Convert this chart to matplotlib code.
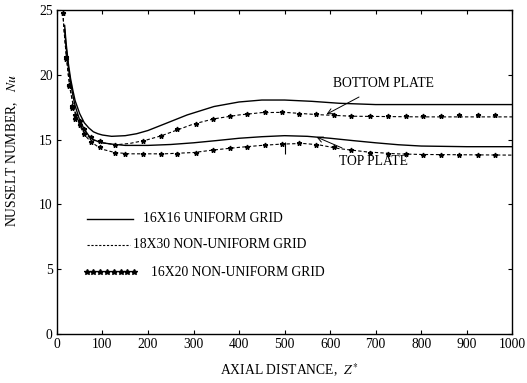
import matplotlib
matplotlib.use("Agg")
import matplotlib.pyplot as plt

plt.rcParams['font.family'] = ['Liberation Serif', 'DejaVu Serif']
plt.rcParams['mathtext.fontset'] = 'stix'

# 16X16 uniform grid (solid) - bottom plate and top plate
solid_bottom_x = [17, 20, 25, 30, 35, 40, 50, 60, 70, 80, 90, 100, 120, 150, 175, 200, 236, 286, 345, 400, 450, 500, 560, 620, 700, 850, 1000]
solid_bottom_y = [23.8, 22.5, 20.9, 19.7, 18.8, 18.0, 17.0, 16.3, 15.9, 15.6, 15.45, 15.35, 15.25, 15.3, 15.45, 15.7, 16.2, 16.9, 17.55, 17.9, 18.05, 18.05, 17.95, 17.8, 17.7, 17.7, 17.7]
solid_top_x = [17, 20, 25, 30, 35, 40, 50, 60, 70, 80, 90, 100, 120, 150, 200, 250, 300, 350, 400, 450, 500, 550, 600, 650, 700, 750, 800, 900, 1000]
solid_top_y = [23.5, 22.2, 20.6, 19.4, 18.4, 17.6, 16.5, 15.8, 15.3, 15.0, 14.85, 14.75, 14.65, 14.55, 14.55, 14.62, 14.75, 14.92, 15.1, 15.22, 15.3, 15.25, 15.1, 14.92, 14.75, 14.6, 14.5, 14.45, 14.45]

# 18X30 non-uniform grid (dashed)
dash_bottom_x = [13, 16, 20, 25, 30, 35, 40, 50, 60, 70, 80, 100, 130, 160, 195, 230, 265, 300, 345, 400, 450, 500, 574, 650, 800, 1000]
dash_bottom_y = [24.8, 23.3, 21.7, 20.0, 18.7, 17.8, 17.1, 16.2, 15.6, 15.2, 14.95, 14.75, 14.6, 14.7, 14.95, 15.3, 15.75, 16.2, 16.6, 16.9, 17.08, 17.1, 16.92, 16.8, 16.75, 16.75]
dash_top_x = [13, 16, 20, 25, 30, 35, 40, 50, 60, 70, 80, 90, 100, 127, 160, 236, 300, 345, 400, 450, 493, 540, 574, 620, 680, 745, 800, 1000]
dash_top_y = [24.8, 23.3, 21.7, 20.0, 18.7, 17.8, 17.1, 16.1, 15.4, 15.0, 14.7, 14.45, 14.25, 14.0, 13.9, 13.9, 14.0, 14.2, 14.4, 14.55, 14.65, 14.7, 14.6, 14.3, 14.05, 13.9, 13.85, 13.8]

# 16X20 non-uniform grid (markers)
mark_bottom_x = [13, 20, 26, 33, 40, 50, 60, 75, 95, 127, 188, 229, 264, 306, 343, 380, 418, 456, 494, 532, 570, 608, 646, 688, 727, 766, 803, 843, 884, 924, 963]
mark_bottom_y = [24.8, 21.4, 19.2, 17.6, 16.9, 16.4, 15.8, 15.2, 14.9, 14.6, 14.9, 15.3, 15.8, 16.2, 16.6, 16.8, 17.0, 17.1, 17.1, 17.0, 16.95, 16.9, 16.8, 16.8, 16.8, 16.85, 16.8, 16.85, 16.9, 16.9, 16.9]
mark_top_x = [20, 26, 33, 40, 50, 60, 75, 95, 127, 150, 188, 229, 264, 306, 343, 380, 418, 456, 494, 532, 570, 608, 646, 688, 727, 766, 803, 843, 884, 924, 963]
mark_top_y = [21.2, 19.1, 17.4, 16.6, 16.1, 15.4, 14.8, 14.4, 14.0, 13.9, 13.85, 13.9, 13.9, 14.0, 14.2, 14.35, 14.45, 14.55, 14.65, 14.7, 14.6, 14.4, 14.2, 14.0, 13.9, 13.85, 13.8, 13.8, 13.8, 13.8, 13.8]

xticks = [0, 100, 200, 300, 400, 500, 600, 700, 800, 900, 1000]
yticks = [0, 5, 10, 15, 20, 25]

fig = plt.figure(figsize=(5.27, 3.83), dpi=100)
ax = fig.add_axes([0.108, 0.128, 0.864, 0.846])

ax.plot(solid_bottom_x, solid_bottom_y, color='black', lw=1.0)
ax.plot(solid_top_x, solid_top_y, color='black', lw=1.0)
ax.plot(dash_bottom_x, dash_bottom_y, color='black', lw=0.8, linestyle=(0, (3, 2)))
ax.plot(dash_top_x, dash_top_y, color='black', lw=0.8, linestyle=(0, (3, 2)))
ax.plot(mark_bottom_x, mark_bottom_y, linestyle='none', marker='*', color='black', markersize=3.5)
ax.plot(mark_top_x, mark_top_y, linestyle='none', marker='*', color='black', markersize=3.5)
ax.vlines(500, 13.9, 14.8, color='black', lw=0.8)

fs = 9.8
# legend (drawn in data coordinates)
ax.plot([65, 166], [8.9, 8.9], color='black', lw=1.0)
ax.text(188, 8.9, '16X16 UNIFORM GRID', fontsize=fs, va='center', ha='left')
ax.plot([65, 160], [6.9, 6.9], color='black', lw=0.8, linestyle=(0, (2, 1.5)))
ax.text(166, 6.9, '18X30 NON-UNIFORM GRID', fontsize=fs, va='center', ha='left')
ax.plot([65, 80, 95, 110, 125, 140, 155, 170], [4.75] * 8, linestyle='none', marker='*', color='black', markersize=4)
ax.text(207, 4.75, '16X20 NON-UNIFORM GRID', fontsize=fs, va='center', ha='left')

# annotations
ax.annotate('BOTTOM PLATE', xy=(592, 16.95), xytext=(718, 19.3), fontsize=fs,
            ha='center', va='center',
            arrowprops=dict(arrowstyle='->', color='black', lw=0.7, shrinkA=6, shrinkB=0))
ax.annotate('TOP PLATE', xy=(570, 15.2), xytext=(696, 13.3), fontsize=fs,
            ha='center', va='center',
            arrowprops=dict(arrowstyle='->', color='black', lw=0.7, shrinkA=8, shrinkB=0))

ax.set_xlim(0, 1000)
ax.set_ylim(0, 25)
ax.set_xticks(xticks)
ax.set_yticks(yticks)
ax.tick_params(direction='in', length=3, width=0.8, top=True, right=True, labelsize=9.8, pad=3)
for s in ax.spines.values():
    s.set_linewidth(1.0)

ax.set_xlabel(r'AXIAL DISTANCE,  $Z^{*}$', fontsize=fs)
ax.set_ylabel(r'NUSSELT NUMBER,   $Nu$', fontsize=fs)
ax.xaxis.set_label_coords(0.51, -0.085)
ax.yaxis.set_label_coords(-0.082, 0.565)

fig.savefig('out.png', dpi=100)
